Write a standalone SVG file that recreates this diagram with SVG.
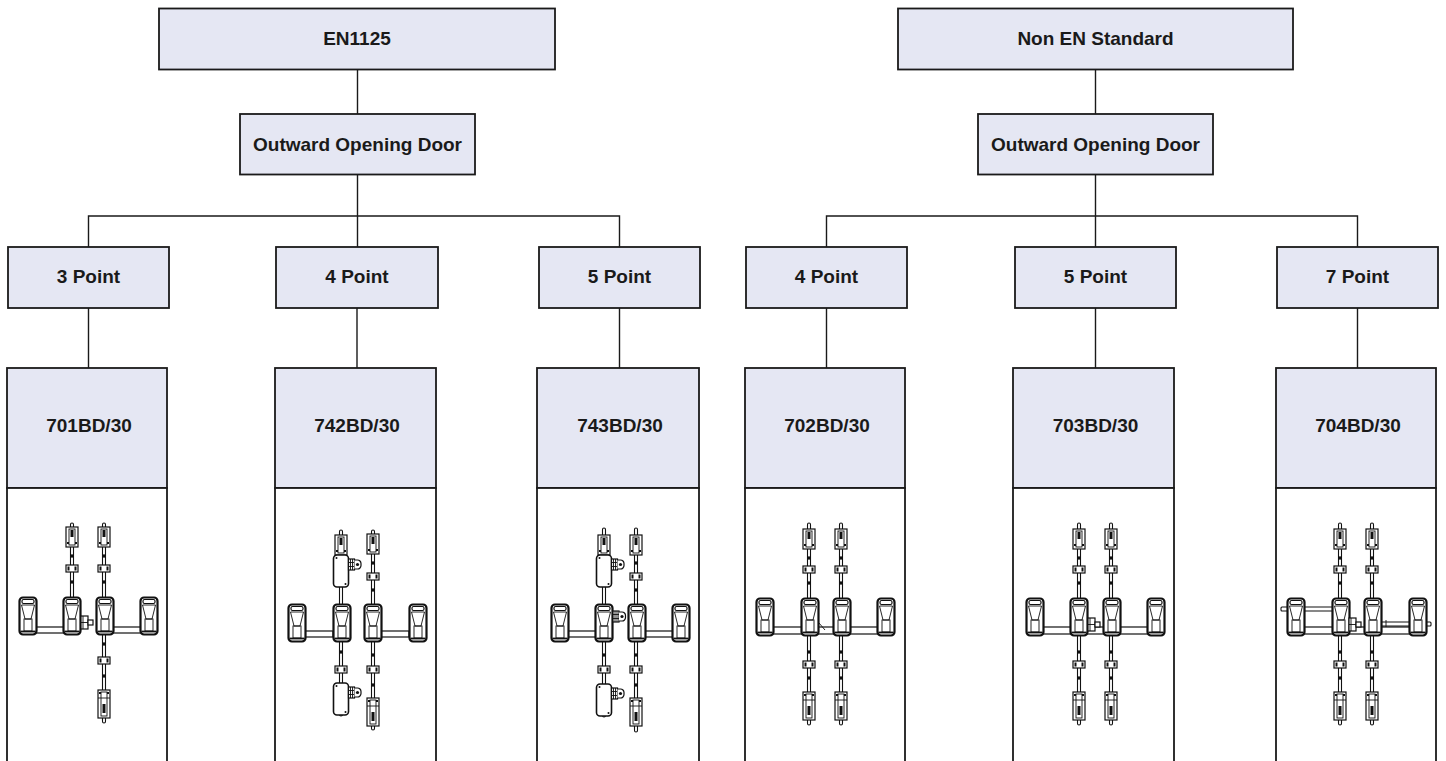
<svg xmlns="http://www.w3.org/2000/svg" xmlns:xlink="http://www.w3.org/1999/xlink" width="1446" height="761" viewBox="0 0 1446 761">
<style>
.box{fill:#e5e7f3;stroke:#1a1a1a;stroke-width:1.8}
.img{fill:#ffffff;stroke:#1a1a1a;stroke-width:1.8}
.lbl{font-family:"Liberation Sans",Arial,sans-serif;font-weight:bold;font-size:19px;fill:#1a1a1a;text-anchor:middle}
.conn{stroke:#1a1a1a;stroke-width:1.4;fill:none}
.rod{fill:#ffffff;stroke:#111;stroke-width:1.1}
.part{fill:#ffffff;stroke:#111;stroke-width:1.2}
.thin{fill:none;stroke:#111;stroke-width:0.9}
.blk{fill:#111}
</style>
<defs>
<g id="pad">
<rect x="0.5" y="0.5" width="17" height="37" rx="3.5" fill="#fff" stroke="#111" stroke-width="2.2"/>
<rect x="3" y="2.5" width="12" height="4" rx="1.5" class="part"/>
<path d="M2.5 8 H15.5 L12 22 H6 Z" class="thin"/>
<rect x="5" y="22" width="8" height="12" class="thin"/>
<path d="M1.5 34.5 H16.5" stroke="#111" stroke-width="1.8"/>
</g>
<g id="bolt">
<rect x="-6" y="0" width="12" height="20" class="part"/>
<rect x="-3" y="2" width="6" height="16" class="thin"/>
<rect x="-1.5" y="3" width="3" height="7" class="blk"/>
<rect x="-5" y="15" width="2" height="2" class="blk"/>
<rect x="3" y="15" width="2" height="2" class="blk"/>
</g>
<g id="boltL">
<rect x="-6" y="0" width="12" height="28" class="part"/>
<rect x="-3" y="2" width="6" height="24" class="thin"/>
<rect x="-1.5" y="14" width="3" height="9" class="blk"/>
<rect x="-5" y="2" width="2" height="2" class="blk"/>
<rect x="3" y="2" width="2" height="2" class="blk"/>
<path d="M-6 8 H6" class="thin"/>
</g>
<g id="guide">
<rect x="-6" y="0" width="12" height="7" class="part"/>
<rect x="-4.5" y="1.5" width="2" height="4" class="blk"/>
<rect x="2.5" y="1.5" width="2" height="4" class="blk"/>
</g>
<g id="dot"><rect x="-1.6" y="-1.6" width="3.2" height="3.2" class="blk"/></g>
<g id="gear">
<rect x="0" y="1" width="6" height="11" class="part"/>
<path d="M2 1 V12 M4 1 V12 M0 4.5 H6 M0 8.5 H6" class="thin"/>
<path d="M6 2 H9 A3.5 3.5 0 0 1 12.5 5.5 V7.5 A3.5 3.5 0 0 1 9 11 H6" class="part"/>
<circle cx="9" cy="6.5" r="1.6" class="blk"/>
</g>
<g id="lock">
<rect x="-7.5" y="0" width="15" height="32" rx="3.5" fill="#fff" stroke="#111" stroke-width="1.6"/>
<circle cx="-4.5" cy="3" r="1" class="blk"/>
<circle cx="4.5" cy="29" r="1" class="blk"/>
<use href="#gear" x="7.5" y="3"/>
</g>
<g id="latch">
<rect x="0" y="2" width="7" height="13" class="part"/>
<rect x="7" y="6" width="5" height="5" class="part"/>
<path d="M2 2 V15 M0 8.5 H7" class="thin"/>
</g>
</defs>

<g id="connectors">
<path class="conn" d="M357.5 69 V114 M357.5 174 V247 M88.5 247 V216 H619.5 V247 M88.5 308 V368 M357 308 V368 M619.5 308 V368"/>
<path class="conn" d="M1095.5 69 V114 M1095.5 174 V247 M826.5 247 V216 H1357.5 V247 M826.5 308 V368 M1095.5 308 V368 M1357.5 308 V368"/>
</g>

<g id="node-en1125">
<rect class="box" x="159" y="8.5" width="396" height="61"/>
<text class="lbl" x="357" y="45">EN1125</text>
</g>
<g id="node-nonen">
<rect class="box" x="898" y="8.5" width="395" height="61"/>
<text class="lbl" x="1095.5" y="45">Non EN Standard</text>
</g>
<g id="node-outward-left">
<rect class="box" x="240" y="114" width="235" height="60.5"/>
<text class="lbl" x="357.5" y="151">Outward Opening Door</text>
</g>
<g id="node-outward-right">
<rect class="box" x="978" y="114" width="235" height="60.5"/>
<text class="lbl" x="1095.5" y="151">Outward Opening Door</text>
</g>

<g id="node-en-3point">
<rect class="box" x="8" y="247" width="161" height="61"/>
<text class="lbl" x="88.5" y="283">3 Point</text>
</g>
<g id="node-en-4point">
<rect class="box" x="276" y="247" width="162" height="61"/>
<text class="lbl" x="357" y="283">4 Point</text>
</g>
<g id="node-en-5point">
<rect class="box" x="539" y="247" width="161" height="61"/>
<text class="lbl" x="619.5" y="283">5 Point</text>
</g>
<g id="node-non-4point">
<rect class="box" x="746" y="247" width="161" height="61"/>
<text class="lbl" x="826.5" y="283">4 Point</text>
</g>
<g id="node-non-5point">
<rect class="box" x="1015" y="247" width="161" height="61"/>
<text class="lbl" x="1095.5" y="283">5 Point</text>
</g>
<g id="node-non-7point">
<rect class="box" x="1277" y="247" width="161" height="61"/>
<text class="lbl" x="1357.5" y="283">7 Point</text>
</g>

<!-- 701BD/30 -->
<g id="node-701">
<rect class="box" x="7" y="368" width="160" height="120"/>
<rect class="img" x="7" y="488" width="160" height="285"/>
<text class="lbl" x="89" y="432">701BD/30</text>
<rect class="rod" x="70.5" y="523" width="3" height="80" rx="1.5"/>
<rect class="rod" x="102.5" y="523" width="3" height="200" rx="1.5"/>
<use href="#bolt" x="72" y="527"/><use href="#bolt" x="104" y="527"/>
<use href="#dot" x="72" y="556"/><use href="#dot" x="104" y="556"/>
<use href="#guide" x="72" y="565"/><use href="#guide" x="104" y="565"/>
<use href="#dot" x="72" y="582"/><use href="#dot" x="104" y="582"/>
<use href="#dot" x="104" y="644"/><use href="#guide" x="104" y="657"/><use href="#dot" x="104" y="676"/>
<use href="#boltL" x="104" y="690"/>
<rect class="part" x="36" y="627" width="28" height="6"/>
<rect class="part" x="113" y="627" width="28" height="6"/>
<use href="#pad" x="19" y="597"/><use href="#pad" x="63" y="597"/><use href="#pad" x="96" y="597"/><use href="#pad" x="140" y="597"/>
<use href="#latch" x="81" y="614"/>
</g>

<!-- 742BD/30 -->
<g id="node-742">
<rect class="box" x="275" y="368" width="161" height="120"/>
<rect class="img" x="275" y="488" width="161" height="285"/>
<text class="lbl" x="357" y="432">742BD/30</text>
<rect class="rod" x="339.5" y="530" width="3" height="186" rx="1.5"/>
<rect class="rod" x="371.5" y="530" width="3" height="200" rx="1.5"/>
<use href="#bolt" x="341" y="535"/><use href="#lock" x="341" y="555"/>
<use href="#dot" x="341" y="652"/><use href="#guide" x="341" y="666"/><use href="#lock" x="341" y="683"/>
<use href="#bolt" x="373" y="534"/><use href="#dot" x="373" y="563"/><use href="#guide" x="373" y="573"/><use href="#dot" x="373" y="590"/>
<use href="#dot" x="373" y="655"/><use href="#guide" x="373" y="666"/><use href="#dot" x="373" y="685"/><use href="#boltL" x="373" y="698"/>
<rect class="part" x="305" y="631" width="28" height="6"/>
<rect class="part" x="381" y="631" width="28" height="6"/>
<use href="#pad" x="288" y="604"/><use href="#pad" x="333" y="604"/><use href="#pad" x="364" y="604"/><use href="#pad" x="409" y="604"/>
</g>

<!-- 743BD/30 -->
<g id="node-743">
<rect class="box" x="537" y="368" width="162" height="120"/>
<rect class="img" x="537" y="488" width="162" height="285"/>
<text class="lbl" x="620" y="432">743BD/30</text>
<rect class="rod" x="602.5" y="528" width="3" height="189" rx="1.5"/>
<rect class="rod" x="634.5" y="528" width="3" height="204" rx="1.5"/>
<use href="#bolt" x="604" y="535"/><use href="#lock" x="604" y="555"/>
<use href="#dot" x="604" y="655"/><use href="#guide" x="604" y="666"/><use href="#lock" x="604" y="684"/>
<use href="#bolt" x="636" y="535"/><use href="#dot" x="636" y="563"/><use href="#guide" x="636" y="573"/><use href="#dot" x="636" y="590"/>
<use href="#dot" x="636" y="655"/><use href="#guide" x="636" y="666"/><use href="#dot" x="636" y="685"/><use href="#boltL" x="636" y="698"/>
<rect class="part" x="568" y="631" width="28" height="6"/>
<rect class="part" x="645" y="631" width="28" height="6"/>
<use href="#pad" x="551" y="604"/><use href="#pad" x="595" y="604"/><use href="#pad" x="628" y="604"/><use href="#pad" x="672" y="604"/>
<use href="#gear" x="613" y="610"/>
</g>

<!-- 702BD/30 -->
<g id="node-702">
<rect class="box" x="745" y="368" width="160" height="120"/>
<rect class="img" x="745" y="488" width="160" height="285"/>
<text class="lbl" x="827" y="432">702BD/30</text>
<rect class="rod" x="807.5" y="523" width="3" height="202" rx="1.5"/>
<rect class="rod" x="839.5" y="523" width="3" height="202" rx="1.5"/>
<use href="#bolt" x="809" y="529"/><use href="#bolt" x="841" y="529"/>
<use href="#dot" x="809" y="558"/><use href="#dot" x="841" y="558"/>
<use href="#guide" x="809" y="566"/><use href="#guide" x="841" y="566"/>
<use href="#dot" x="809" y="583"/><use href="#dot" x="841" y="583"/>
<use href="#dot" x="809" y="652"/><use href="#dot" x="841" y="652"/>
<use href="#guide" x="809" y="661"/><use href="#guide" x="841" y="661"/>
<use href="#dot" x="809" y="678"/><use href="#dot" x="841" y="678"/>
<use href="#boltL" x="809" y="692"/><use href="#boltL" x="841" y="692"/>
<rect class="part" x="772" y="627" width="106" height="7"/>
<use href="#pad" x="756" y="598"/><use href="#pad" x="801" y="598"/><use href="#pad" x="833" y="598"/><use href="#pad" x="877" y="598"/>
<path class="thin" d="M819 623 L825 630"/>
</g>

<!-- 703BD/30 -->
<g id="node-703">
<rect class="box" x="1013" y="368" width="161" height="120"/>
<rect class="img" x="1013" y="488" width="161" height="285"/>
<text class="lbl" x="1095.5" y="432">703BD/30</text>
<rect class="rod" x="1077.5" y="523" width="3" height="202" rx="1.5"/>
<rect class="rod" x="1109.5" y="523" width="3" height="202" rx="1.5"/>
<use href="#bolt" x="1079" y="529"/><use href="#bolt" x="1111" y="529"/>
<use href="#dot" x="1079" y="558"/><use href="#dot" x="1111" y="558"/>
<use href="#guide" x="1079" y="566"/><use href="#guide" x="1111" y="566"/>
<use href="#dot" x="1079" y="583"/><use href="#dot" x="1111" y="583"/>
<use href="#dot" x="1079" y="652"/><use href="#dot" x="1111" y="652"/>
<use href="#guide" x="1079" y="661"/><use href="#guide" x="1111" y="661"/>
<use href="#dot" x="1079" y="678"/><use href="#dot" x="1111" y="678"/>
<use href="#boltL" x="1079" y="692"/><use href="#boltL" x="1111" y="692"/>
<rect class="part" x="1043" y="627" width="105" height="7"/>
<use href="#pad" x="1026" y="598"/><use href="#pad" x="1070" y="598"/><use href="#pad" x="1103" y="598"/><use href="#pad" x="1147" y="598"/>
<use href="#latch" x="1088" y="616"/>
</g>

<!-- 704BD/30 -->
<g id="node-704">
<rect class="box" x="1276" y="368" width="160" height="120"/>
<rect class="img" x="1276" y="488" width="160" height="285"/>
<text class="lbl" x="1358" y="432">704BD/30</text>
<rect class="rod" x="1338.5" y="523" width="3" height="202" rx="1.5"/>
<rect class="rod" x="1370.5" y="523" width="3" height="202" rx="1.5"/>
<use href="#bolt" x="1340" y="529"/><use href="#bolt" x="1372" y="529"/>
<use href="#dot" x="1340" y="558"/><use href="#dot" x="1372" y="558"/>
<use href="#guide" x="1340" y="566"/><use href="#guide" x="1372" y="566"/>
<use href="#dot" x="1340" y="583"/><use href="#dot" x="1372" y="583"/>
<use href="#dot" x="1340" y="652"/><use href="#dot" x="1372" y="652"/>
<use href="#guide" x="1340" y="661"/><use href="#guide" x="1372" y="661"/>
<use href="#dot" x="1340" y="678"/><use href="#dot" x="1372" y="678"/>
<use href="#boltL" x="1340" y="692"/><use href="#boltL" x="1372" y="692"/>
<rect class="rod" x="1281" y="607" width="52" height="4" rx="1"/>
<rect class="rod" x="1380" y="622" width="51" height="4" rx="1"/>
<path class="thin" d="M1386 620 V628"/>
<rect class="part" x="1304" y="627" width="106" height="7"/>
<use href="#pad" x="1287" y="598"/><use href="#pad" x="1332" y="598"/><use href="#pad" x="1364" y="598"/><use href="#pad" x="1409" y="598"/>
<use href="#latch" x="1349" y="616"/>
</g>
</svg>
